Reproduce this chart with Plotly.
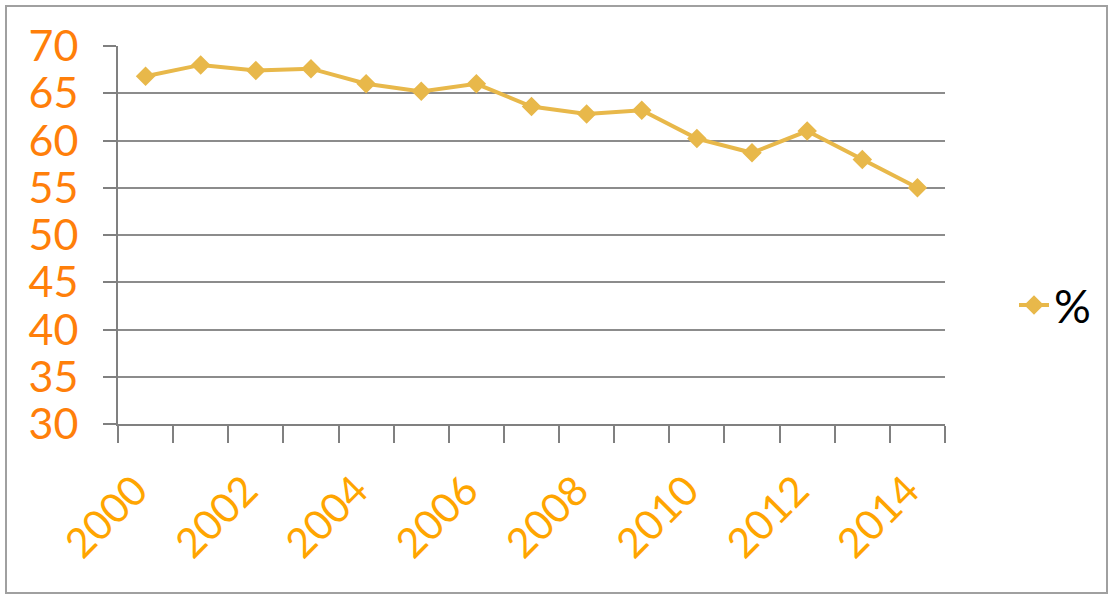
import plotly.graph_objects as go

years = list(range(2000, 2015))
values = [66.8, 68.0, 67.4, 67.6, 66.0, 65.2, 66.0, 63.6, 62.8, 63.2, 60.2, 58.7, 61.0, 58.0, 55.0]
series_name = "%"
x_tick_labels = ["2000", "2002", "2004", "2006", "2008", "2010", "2012", "2014"]
x_tick_vals = [2000, 2002, 2004, 2006, 2008, 2010, 2012, 2014]
y_ticks = [30, 35, 40, 45, 50, 55, 60, 65, 70]

W, H = 1112, 595
L, R, T, B = 118, 167, 46, 171
pw, ph = W - L - R, H - T - B

line_color = "#E8B84A"
font_family = "Lato, 'Noto Sans', sans-serif"

fig = go.Figure()
fig.add_trace(go.Scatter(
    x=years, y=values, name=series_name, mode="lines+markers",
    line=dict(color=line_color, width=4),
    marker=dict(symbol="diamond", size=15, color=line_color),
))

def px_to_paper_x(px):
    return (px - L) / pw

def px_to_paper_y(py):
    return (H - B - py) / ph

fig.add_shape(type="rect", xref="paper", yref="paper",
              x0=px_to_paper_x(6), x1=px_to_paper_x(1107),
              y0=px_to_paper_y(593), y1=px_to_paper_y(6),
              line=dict(color="#A0A0A0", width=2), fillcolor="rgba(0,0,0,0)", layer="below")

fig.update_layout(
    width=W, height=H,
    margin=dict(l=L, r=R, t=T, b=B),
    paper_bgcolor="white", plot_bgcolor="white",
    showlegend=True,
    legend=dict(x=px_to_paper_x(1014), y=px_to_paper_y(305), xanchor="left", yanchor="middle",
                font=dict(size=46, color="black", family=font_family),
                bgcolor="rgba(0,0,0,0)", itemwidth=30),
    xaxis=dict(
        range=[1999.5, 2014.5],
        tickmode="array", tickvals=x_tick_vals, ticktext=x_tick_labels,
        ticks="", tickangle=-45,
        tickfont=dict(size=41, color="#FFA500", family=font_family),
        ticklabelstandoff=24, ticklabelshift=-10,
        showgrid=False, showline=True, linecolor="#808080", linewidth=2,
        minor=dict(tick0=1999.5, dtick=1, ticks="outside", ticklen=17, tickcolor="#808080", tickwidth=2, showgrid=False),
        zeroline=False,
    ),
    yaxis=dict(
        range=[30, 70], tickvals=y_ticks,
        ticks="outside", ticklen=13, tickcolor="#808080", tickwidth=2,
        tickfont=dict(size=43, color="#FF7F0A", family=font_family),
        ticklabelstandoff=16,
        showgrid=True, gridcolor="#8C8C8C", gridwidth=1.5,
        showline=True, linecolor="#808080", linewidth=2,
        zeroline=False,
    ),
)

fig.write_html("out.html")
